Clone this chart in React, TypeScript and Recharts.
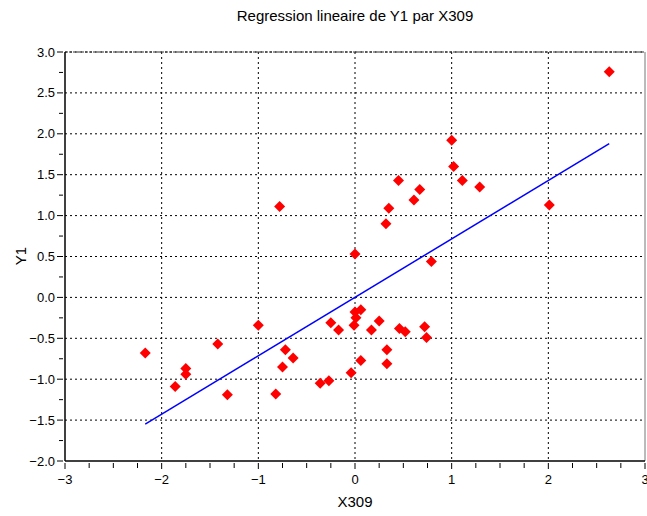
import React from 'react';
import { ScatterChart, Scatter, XAxis, YAxis, CartesianGrid, ReferenceLine } from 'recharts';

const x309 = [
  -2.17, -1.86, -1.75, -1.75, -1.42, -1.32, -1.0, -0.82, -0.78, -0.75, -0.72, -0.64,
  -0.36, -0.27, -0.25, -0.17, -0.04, -0.01, 0.0, 0.01, 0.0, 0.06, 0.06, 0.17, 0.25,
  0.32, 0.33, 0.33, 0.35, 0.45, 0.46, 0.52, 0.61, 0.67, 0.72, 0.74, 0.79, 1.0, 1.02,
  1.11, 1.29, 2.01, 2.63,
];
const y1 = [
  -0.68, -1.09, -0.87, -0.94, -0.57, -1.19, -0.34, -1.18, 1.11, -0.85, -0.64, -0.74,
  -1.05, -1.02, -0.31, -0.4, -0.92, -0.34, -0.18, -0.25, 0.53, -0.15, -0.77, -0.4, -0.29,
  0.9, -0.64, -0.81, 1.09, 1.43, -0.38, -0.42, 1.19, 1.32, -0.36, -0.49, 0.44, 1.92, 1.6,
  1.43, 1.35, 1.13, 2.76,
];

// droite de regression (extremites)
const fitX = [-2.17, 2.63];
const fitY = [-1.55, 1.88];

const xMajor = [-3, -2, -1, 0, 1, 2, 3];
const yMajor = [-2, -1.5, -1, -0.5, 0, 0.5, 1, 1.5, 2, 2.5, 3];
const xTicks = [-3, -2.75, -2.5, -2.25, -2, -1.75, -1.5, -1.25, -1, -0.75, -0.5, -0.25, 0, 0.25, 0.5, 0.75, 1, 1.25, 1.5, 1.75, 2, 2.25, 2.5, 2.75, 3];
const yTicks = [-2, -1.75, -1.5, -1.25, -1, -0.75, -0.5, -0.25, 0, 0.25, 0.5, 0.75, 1, 1.25, 1.5, 1.75, 2, 2.25, 2.5, 2.75, 3];

const points = x309.map((x, i) => ({ x, y: y1[i] }));
const fitLine = fitX.map((x, i) => ({ x, y: fitY[i] }));

const font = 'Helvetica, Arial, "Liberation Sans", sans-serif';
const minus = (s: string) => s.replace('-', '\u2212');

function XTick(props: any) {
  const { x, y, payload } = props;
  const major = xMajor.includes(payload.value);
  return (
    <g>
      <line x1={x} x2={x} y1={y} y2={y + (major ? 6 : 5)} stroke="#000" />
      {major && (
        <text x={x} y={y + 21} textAnchor="middle" fontSize={13} fontFamily={font} fill="#000">
          {minus(String(payload.value))}
        </text>
      )}
    </g>
  );
}

function YTick(props: any) {
  const { x, y, payload } = props;
  const major = yMajor.includes(payload.value);
  return (
    <g>
      <line x1={x - (major ? 6 : 4)} x2={x} y1={y} y2={y} stroke="#000" />
      {major && (
        <text x={x - 8} y={y + 4.5} textAnchor="end" fontSize={13} fontFamily={font} fill="#000">
          {minus(payload.value.toFixed(1))}
        </text>
      )}
    </g>
  );
}

function Diamond(props: any) {
  const { cx, cy } = props;
  const r = 5.5;
  return <polygon points={`${cx},${cy - r} ${cx + r},${cy} ${cx},${cy + r} ${cx - r},${cy}`} fill="#ff0000" />;
}

export default function App() {
  return (
    <div style={{ position: 'absolute', left: 0, top: 0, width: 647, height: 516, background: '#fff', fontFamily: font }}>
      <div style={{ position: 'absolute', top: 7, left: 65, width: 580, textAlign: 'center', fontSize: 15 }}>
        Regression lineaire de Y1 par X309
      </div>
      <div style={{ position: 'absolute', top: 493, left: 65, width: 580, textAlign: 'center', fontSize: 15 }}>
        X309
      </div>
      <div
        style={{
          position: 'absolute', left: 20, top: 256, fontSize: 15,
          transform: 'translate(-50%, -50%) rotate(-90deg)', whiteSpace: 'nowrap',
        }}
      >
        Y1
      </div>
      <div style={{ position: 'absolute', left: 0, top: 0 }}>
        <ScatterChart width={647} height={516} margin={{ top: 52, right: 2, bottom: 25, left: 25 }}>
          <CartesianGrid
            stroke="#000"
            strokeDasharray="2 3"
            verticalValues={[-2, -1, 0, 1, 2]}
            horizontalValues={[-1.5, -1, -0.5, 0, 0.5, 1, 1.5, 2, 2.5, 3]}
          />
          <XAxis
            type="number"
            dataKey="x"
            domain={[-3, 3]}
            ticks={xTicks}
            interval={0}
            tickLine={false}
            tickSize={0}
            tick={<XTick />}
            axisLine={{ stroke: '#000', strokeWidth: 1.5 }}
            height={30}
            allowDataOverflow
          />
          <YAxis
            type="number"
            dataKey="y"
            domain={[-2, 3]}
            ticks={yTicks}
            interval={0}
            tickLine={false}
            tickSize={0}
            tick={<YTick />}
            axisLine={{ stroke: '#000', strokeWidth: 1.5 }}
            width={40}
            allowDataOverflow
          />
          <ReferenceLine x={3} stroke="#777" />
          <ReferenceLine y={3} stroke="#333" strokeDasharray="3 1" />
          <Scatter
            data={fitLine}
            line={{ stroke: '#0000ff', strokeWidth: 1.5 }}
            shape={() => <g />}
            isAnimationActive={false}
          />
          <Scatter data={points} shape={<Diamond />} isAnimationActive={false} />
        </ScatterChart>
      </div>
    </div>
  );
}
